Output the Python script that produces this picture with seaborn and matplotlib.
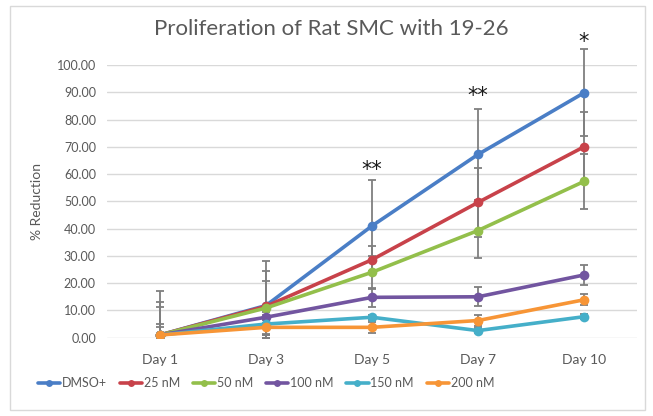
import matplotlib
matplotlib.use("Agg")
import matplotlib.pyplot as plt
import seaborn as sns
import pandas as pd
import numpy as np
from matplotlib.patches import Rectangle

days = ["Day 1", "Day 3", "Day 5", "Day 7", "Day 10"]
series = ["DMSO+", "25 nM", "50 nM", "100 nM", "150 nM", "200 nM"]
colors = ["#4A7EC6", "#C8424A", "#93BF4B", "#7255A0", "#45AFC9", "#F79536"]

dmso = [1.0, 11.8, 41.0, 67.2, 89.8]
nm25 = [1.0, 11.5, 28.6, 49.6, 70.0]
nm50 = [1.0, 10.9, 24.0, 39.3, 57.3]
nm100 = [1.0, 7.5, 14.8, 15.0, 23.0]
nm150 = [1.0, 5.0, 7.5, 2.6, 7.7]
nm200 = [1.0, 3.8, 3.8, 6.3, 13.9]

err_dmso = [16.3, 16.5, 16.7, 16.8, 16.0]
err_25 = [12.0, 12.8, 5.0, 12.7, 12.7]
err_50 = [10.2, 10.0, 6.0, 10.0, 10.0]
err_100 = [4.0, 2.0, 3.5, 3.5, 3.8]
err_150 = [2.8, 3.5, 1.0, 1.0, 1.0]
err_200 = [0.5, 2.8, 2.0, 2.0, 2.0]

stars = {"Day 5": "**", "Day 7": "**", "Day 10": "*"}
star_y = {"Day 5": 61.5, "Day 7": 88.5, "Day 10": 108.5}

values = [dmso, nm25, nm50, nm100, nm150, nm200]
errs = [err_dmso, err_25, err_50, err_100, err_150, err_200]

rows = []
for s, v, e in zip(series, values, errs):
    for d, y, er in zip(days, v, e):
        rows.append({"Day": d, "Series": s, "Reduction": y, "Err": er})
df = pd.DataFrame(rows)

sns.set_theme(style="white")
plt.rcParams["font.family"] = ["Lato", "DejaVu Sans"]

fig = plt.figure(figsize=(6.53, 4.16), dpi=100)
ax = fig.add_axes([107 / 653, 1 - 337.7 / 416, 530 / 653, (337.7 - 65) / 416])

# error bars (the axis floor at 0 clips the lower ends, tops may overflow)
for s in series:
    sub = df[df["Series"] == s]
    yv = sub["Reduction"].to_numpy()
    ev = sub["Err"].to_numpy()
    lower = np.minimum(ev, yv)
    ax.errorbar(sub["Day"], yv, yerr=[lower, ev], fmt="none",
                ecolor="#7F7F7F", elinewidth=1.3, capsize=3, capthick=1.3,
                zorder=1, clip_on=False)

sns.lineplot(data=df, x="Day", y="Reduction", hue="Series", hue_order=series,
             palette=colors, marker="o", markersize=7, markeredgewidth=0,
             linewidth=2.6, sort=False, ax=ax, zorder=3)

ax.set_ylim(0, 100)
ax.set_xlim(-0.5, 4.5)
ax.set_yticks(range(0, 101, 10))
ax.set_yticklabels([f"{t:.2f}" for t in range(0, 101, 10)])
ax.grid(axis="y", color="#D9D9D9", linewidth=1)
ax.set_axisbelow(True)
for sp in ax.spines.values():
    sp.set_visible(False)
ax.tick_params(axis="both", length=0, labelsize=9, colors="#595959", pad=8)
ax.tick_params(axis="x", labelsize=10, pad=12)
ax.set_xlabel("")
ax.set_ylabel("% Reduction", fontsize=10, color="#595959", labelpad=10)

for d, t in stars.items():
    ax.text(days.index(d), star_y[d], t, ha="center", va="center",
            fontsize=15, color="#1a1a1a", clip_on=False, family="DejaVu Sans")

fig.suptitle("Proliferation of Rat SMC with 19-26", x=0.507, y=0.955,
             fontsize=16, color="#595959")

handles, labels = ax.get_legend_handles_labels()
ax.legend_.remove()
for h in handles:
    h.set_markersize(5)
fig.legend(handles, labels, loc="center", bbox_to_anchor=(266 / 653, 1 - 383 / 416),
           ncol=6, frameon=False, fontsize=9, labelcolor="#595959",
           handlelength=1.8, handletextpad=0.15, columnspacing=1.0,
           borderpad=0)

fig.patches.append(Rectangle((10 / 653, 6 / 416), 635 / 653, 404 / 416,
                             transform=fig.transFigure, fill=False,
                             edgecolor="#D9D9D9", linewidth=1))

fig.savefig("out.png", dpi=100, facecolor="white")
